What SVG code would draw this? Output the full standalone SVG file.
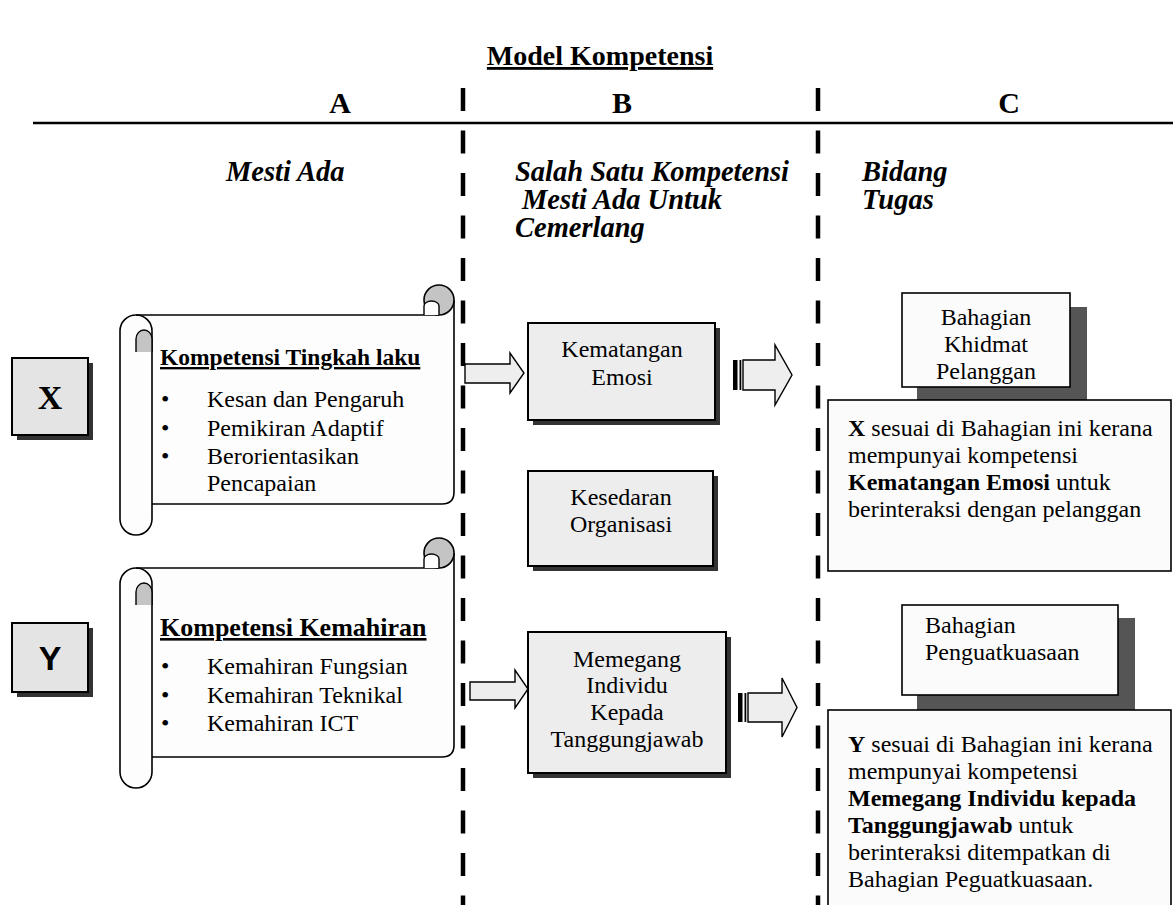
<svg xmlns="http://www.w3.org/2000/svg" width="1173" height="905" viewBox="0 0 1173 905" font-family="'Liberation Serif', 'DejaVu Serif', serif">
<style>
text{font-family:"Liberation Serif","DejaVu Serif",serif;fill:#000}
.t{font-size:24px}
.b{font-weight:bold}
.h{font-size:28.5px;font-weight:bold;font-style:italic}
.col{font-size:30px;font-weight:bold;text-anchor:middle}
.c{text-anchor:middle}
.u{text-decoration:underline}
.ln{stroke:#000;stroke-width:1.6;fill:none}
.box{fill:#ededed;stroke:#000;stroke-width:2}
.sh{fill:#333}
.csh{fill:#555}
.cbox{fill:#fbfbfb;stroke:#000;stroke-width:1.6}
.roll{fill:#c4c4c4;stroke:#000;stroke-width:1.6}
.body{fill:#fdfdfd;stroke:none}
.arr{fill:#eeeeee;stroke:#000;stroke-width:1.4}
.dash{stroke:#000;stroke-width:4.5;stroke-dasharray:23 19.5;fill:none}
</style>
<defs>
<g id="scrollShape">
<path class="body" d="M136,315 H454 V492 Q454,504 442,504 H152 V535 H120 V331 Z"/>
<path class="ln" d="M136,315 H439"/>
<path class="ln" d="M454,300 V492 Q454,504 442,504 H152"/>
<path class="ln" d="M120,331 A16,16 0 0 1 152,331 V519 A16,16 0 0 1 120,519 Z" fill="#fdfdfd"/>
<path d="M136,352 V339 A8,9 0 0 1 152,339 V352" fill="#c4c4c4" stroke="#000" stroke-width="1.4"/>
<circle class="roll" cx="439" cy="300" r="15"/>
<path d="M424,315 V306 A7.5,5 0 0 1 439,306 V315" fill="#fdfdfd" stroke="#000" stroke-width="1.4"/>
</g>
</defs>
<rect width="1173" height="905" fill="#fff"/>

<g id="title">
<text x="600" y="65" class="c b u" style="font-size:28px">Model Kompetensi</text>
</g>

<g id="headers">
<line x1="33" y1="123" x2="1173" y2="123" stroke="#000" stroke-width="2.5"/>
<text x="340" y="113" class="col">A</text>
<text x="622" y="113" class="col">B</text>
<text x="1009" y="113" class="col">C</text>
<text x="226" y="181" class="h">Mesti Ada</text>
<text x="515" y="181" class="h">Salah Satu Kompetensi</text>
<text x="522" y="209" class="h">Mesti Ada Untuk</text>
<text x="515" y="237" class="h">Cemerlang</text>
<text x="862" y="181" class="h">Bidang</text>
<text x="862" y="209" class="h">Tugas</text>
</g>

<g id="dividers">
<line class="dash" x1="463" y1="88" x2="463" y2="905"/>
<line class="dash" x1="818" y1="88" x2="818" y2="905"/>
</g>

<g id="nodeX">
<rect x="17" y="363" width="76" height="77" class="sh"/>
<rect x="12" y="358" width="76" height="77" fill="#e4e4e4" stroke="#000" stroke-width="2"/>
<text x="50" y="409" class="c b" style="font-size:34px">X</text>
</g>

<g id="nodeY">
<rect x="17" y="628" width="76" height="69" class="sh"/>
<rect x="12" y="623" width="76" height="69" fill="#e4e4e4" stroke="#000" stroke-width="2"/>
<text x="50" y="670" class="c" style="font-family:'Liberation Sans',Arial,sans-serif;font-weight:bold;font-size:34px">Y</text>
</g>

<g id="scrollA1">
<use href="#scrollShape"/>
<text x="160" y="365" class="b u" style="font-size:23.5px">Kompetensi Tingkah laku</text>
<text x="161" y="407" class="t">•</text><text x="207" y="407" class="t">Kesan dan Pengaruh</text>
<text x="161" y="436" class="t">•</text><text x="207" y="436" class="t">Pemikiran Adaptif</text>
<text x="161" y="464" class="t">•</text><text x="207" y="464" class="t">Berorientasikan</text>
<text x="207" y="491" class="t">Pencapaian</text>
</g>

<g id="scrollA2">
<use href="#scrollShape" transform="translate(0,253)"/>
<text x="160" y="636" class="b u" style="font-size:26px">Kompetensi Kemahiran</text>
<text x="161" y="674" class="t">•</text><text x="207" y="674" class="t">Kemahiran Fungsian</text>
<text x="161" y="703" class="t">•</text><text x="207" y="703" class="t">Kemahiran Teknikal</text>
<text x="161" y="731" class="t">•</text><text x="207" y="731" class="t">Kemahiran ICT</text>
</g>

<g id="nodeB1">
<rect x="533" y="328" width="187" height="97" class="sh"/>
<rect x="528" y="323" width="187" height="97" class="box"/>
<text x="622" y="357" class="t c">Kematangan</text>
<text x="622" y="385" class="t c">Emosi</text>
</g>

<g id="nodeB2">
<rect x="533" y="476" width="185" height="95" class="sh"/>
<rect x="528" y="471" width="185" height="95" class="box"/>
<text x="621" y="505" class="t c">Kesedaran</text>
<text x="621" y="532" class="t c">Organisasi</text>
</g>

<g id="nodeB3">
<rect x="533" y="637" width="198" height="141" class="sh"/>
<rect x="528" y="632" width="198" height="141" class="box"/>
<text x="627" y="667" class="t c">Memegang</text>
<text x="627" y="693" class="t c">Individu</text>
<text x="627" y="720" class="t c">Kepada</text>
<text x="627" y="747" class="t c">Tanggungjawab</text>
</g>

<g id="nodeC1">
<rect x="917" y="307" width="170" height="93" class="csh"/>
<rect x="902" y="293" width="168" height="94" class="cbox"/>
<text x="986" y="325" class="t c">Bahagian</text>
<text x="986" y="352" class="t c">Khidmat</text>
<text x="986" y="379" class="t c">Pelanggan</text>
</g>

<g id="nodeC1text">
<rect x="828" y="400" width="343" height="171" class="cbox"/>
<text x="848" y="436" class="t"><tspan class="b">X</tspan> sesuai di Bahagian ini kerana</text>
<text x="848" y="463" class="t">mempunyai kompetensi</text>
<text x="848" y="490" class="t"><tspan class="b">Kematangan Emosi</tspan> untuk</text>
<text x="848" y="517" class="t">berinteraksi dengan pelanggan</text>
</g>

<g id="nodeC2">
<rect x="917" y="618" width="218" height="92" class="csh"/>
<rect x="902" y="605" width="216" height="90" class="cbox"/>
<text x="925" y="633" class="t">Bahagian</text>
<text x="925" y="660" class="t">Penguatkuasaan</text>
</g>

<g id="nodeC2text">
<rect x="828" y="710" width="343" height="205" class="cbox"/>
<text x="848" y="752" class="t"><tspan class="b">Y</tspan> sesuai di Bahagian ini kerana</text>
<text x="848" y="779" class="t">mempunyai kompetensi</text>
<text x="848" y="806" class="t b">Memegang Individu kepada</text>
<text x="848" y="833" class="t"><tspan class="b">Tanggungjawab</tspan> untuk</text>
<text x="848" y="860" class="t">berinteraksi ditempatkan di</text>
<text x="848" y="887" class="t">Bahagian Peguatkuasaan.</text>
</g>

<g id="connectors">
<polygon class="arr" points="465,364 510,364 510,353 524,373 510,393 510,383 465,383"/>
<polygon class="arr" points="470,682 515,682 515,670 528,689 515,708 515,700 470,700"/>
<rect x="733" y="360" width="4.5" height="30" fill="#000"/>
<rect x="739.5" y="360" width="1.8" height="30" fill="#000"/>
<polygon class="arr" fill="#f6f6f6" points="743,360 775,360 775,345 792,375 775,405 775,390 743,390"/>
<rect x="738" y="693" width="4.5" height="29" fill="#000"/>
<rect x="744.5" y="693" width="1.8" height="29" fill="#000"/>
<polygon class="arr" points="748,693 782,693 782,678 797,707.5 782,737 782,722 748,722"/>
</g>
</svg>
